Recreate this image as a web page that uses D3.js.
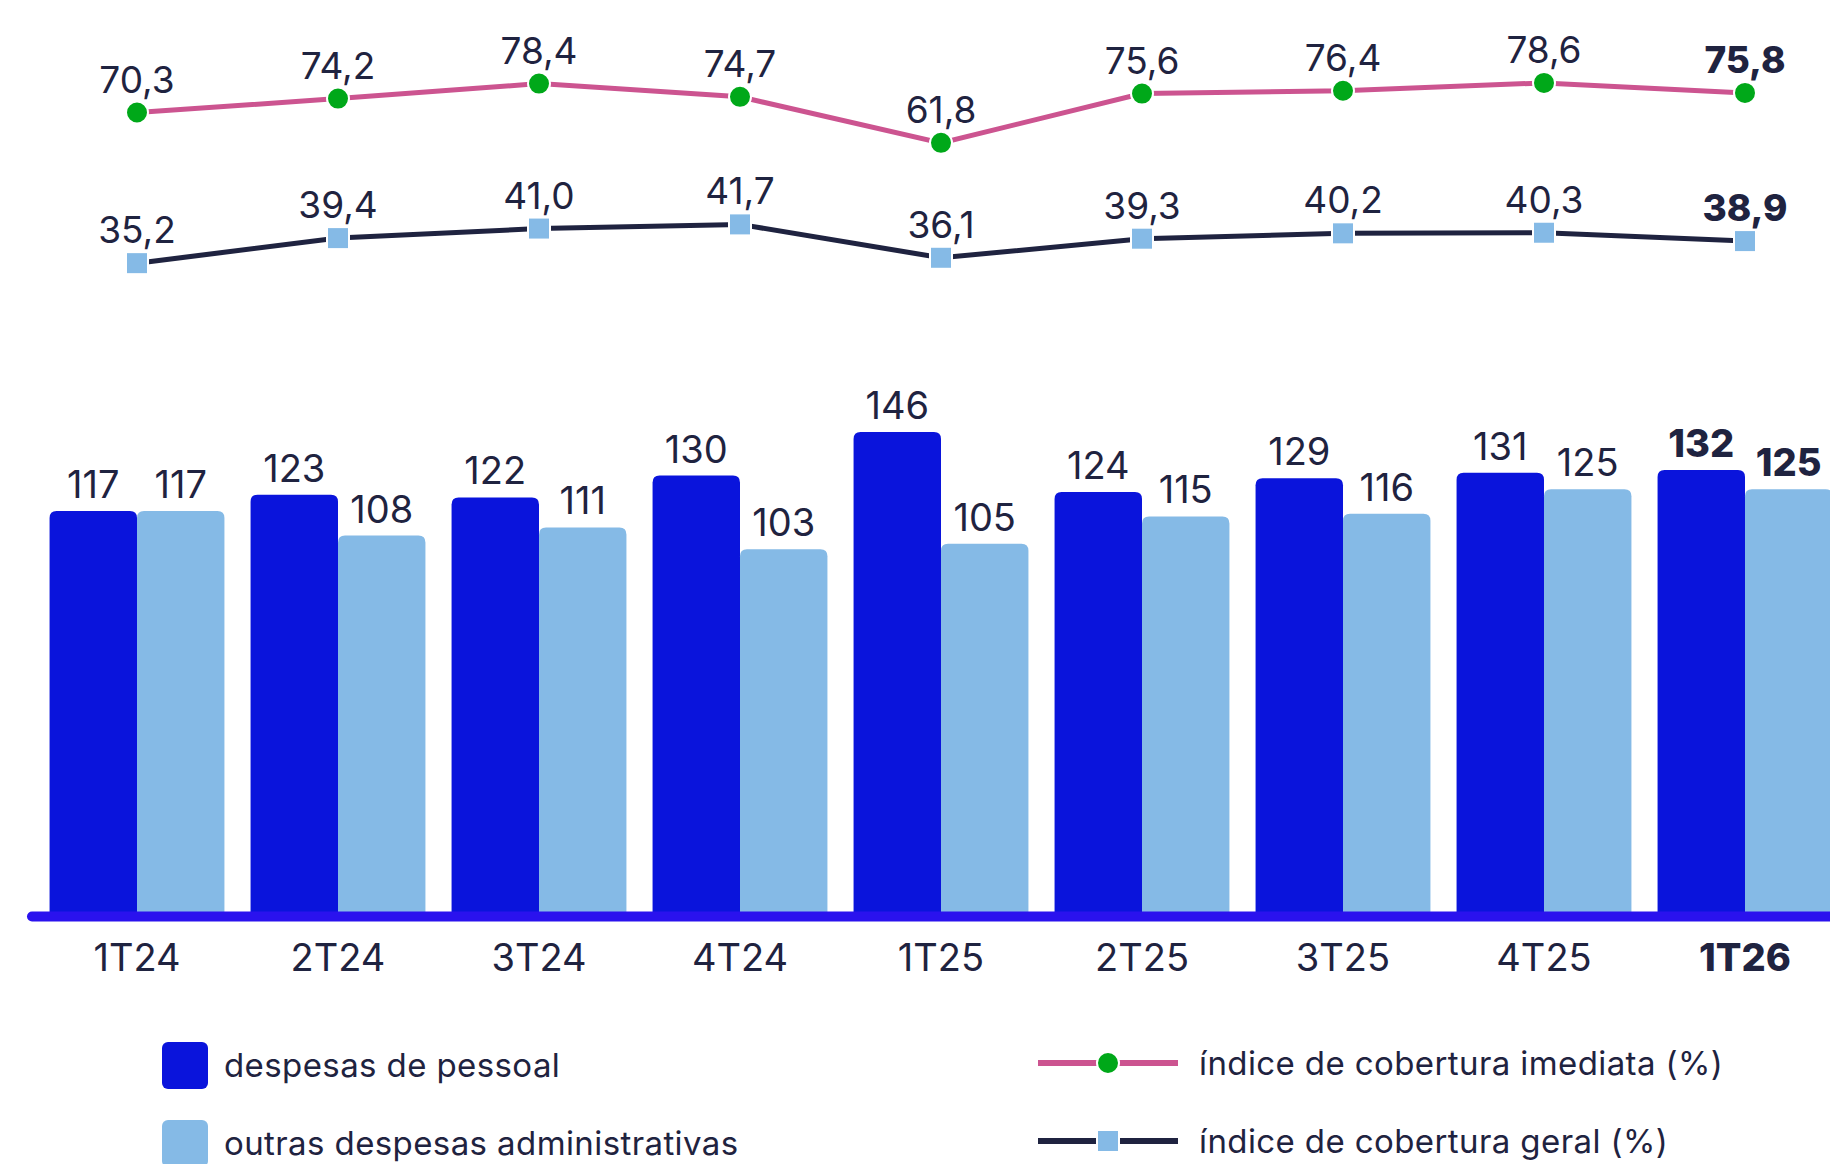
<!DOCTYPE html>
<html>
<head>
<meta charset="utf-8">
<script src="https://cdn.jsdelivr.net/npm/d3@7"></script>
<style>
  body { margin: 0; background: #fff; }
  text { font-family: Inter, "Open Sans", sans-serif; fill: #1f2340; }
</style>
</head>
<body>
<div id="chart"></div>
<script>
// quarters and series
let quarters = ["1T24", "2T24", "3T24", "4T24", "1T25", "2T25", "3T25", "4T25", "1T26"];
let despesasPessoal = [117, 123, 122, 130, 146, 124, 129, 131, 132];
let outrasDespesas = [117, 108, 111, 103, 105, 115, 116, 125, 125];
let coberturaImediata = [70.3, 74.2, 78.4, 74.7, 61.8, 75.6, 76.4, 78.6, 75.8];
let coberturaGeral = [35.2, 39.4, 41.0, 41.7, 36.1, 39.3, 40.2, 40.3, 38.9];
let seriesKeys = ["pessoal", "outras"];

let width = 1830;
let height = 1164;
let lastQ = quarters[quarters.length - 1];

let colors = {
  pessoal: "#0a14dc",
  outras: "#85bae6",
  axis: "#2a12ee",
  imediata: "#cc5490",
  geral: "#1f2340",
  dot: "#00a819",
  text: "#1f2340",
};

let ptBr = d3.formatLocale({ decimal: ",", thousands: ".", grouping: [3], currency: ["R$", ""] });
let fmt1 = ptBr.format(".1f");

let svg = d3
  .select("#chart")
  .append("svg")
  .attr("width", width)
  .attr("height", height);

// x scales
let x0 = d3
  .scaleBand()
  .domain(quarters)
  .range([36.5, 1845.5])
  .paddingInner(0.13)
  .paddingOuter(0.065);
let x1 = d3.scaleBand().domain(seriesKeys).range([0, x0.bandwidth()]);

// bar scale (baseline sits on the thick axis line)
let baseY = 912;
let yBar = d3.scaleLinear().domain([-30, 150]).range([baseY, 421]);

// two separate scales for the index lines
let yImediata = d3.scaleLinear().domain([60, 80]).range([149.3, 77.9]);
let yGeral = d3.scaleLinear().domain([34, 42]).range([270.3, 222.6]);

let rows = quarters.map((q, i) => ({
  q: q,
  pessoal: despesasPessoal[i],
  outras: outrasDespesas[i],
  imediata: coberturaImediata[i],
  geral: coberturaGeral[i],
}));

function topRounded(x, y, w, h, r) {
  return `M${x},${y + h}V${y + r}Q${x},${y} ${x + r},${y}H${x + w - r}Q${x + w},${y} ${x + w},${y + r}V${y + h}Z`;
}

// bars
let groups = svg
  .append("g")
  .selectAll("g.quarter")
  .data(rows)
  .enter()
  .append("g")
  .attr("class", "quarter")
  .attr("transform", (d) => `translate(${x0(d.q)},0)`);

groups
  .selectAll("path.bar")
  .data((d) => seriesKeys.map((k) => ({ key: k, value: d[k], q: d.q })))
  .enter()
  .append("path")
  .attr("class", "bar")
  .attr("fill", (d) => colors[d.key])
  .attr("d", (d) =>
    topRounded(x1(d.key), yBar(d.value), x1.bandwidth(), baseY + 2 - yBar(d.value), 7)
  );

groups
  .selectAll("text.barLabel")
  .data((d) => seriesKeys.map((k) => ({ key: k, value: d[k], q: d.q })))
  .enter()
  .append("text")
  .attr("class", "barLabel")
  .attr("x", (d) => x1(d.key) + x1.bandwidth() / 2)
  .attr("y", (d) => yBar(d.value) - 13)
  .attr("text-anchor", "middle")
  .attr("font-size", 38)
  .attr("font-weight", (d) => (d.q === lastQ ? 800 : 400))
  .text((d) => d.value);

// thick axis line
svg
  .append("line")
  .attr("x1", 32)
  .attr("x2", width + 10)
  .attr("y1", 916.5)
  .attr("y2", 916.5)
  .attr("stroke", colors.axis)
  .attr("stroke-width", 10)
  .attr("stroke-linecap", "round");

// category labels
svg
  .append("g")
  .selectAll("text")
  .data(quarters)
  .enter()
  .append("text")
  .attr("x", (q) => x0(q) + x0.bandwidth() / 2)
  .attr("y", 971)
  .attr("text-anchor", "middle")
  .attr("font-size", 38)
  .attr("font-weight", (q) => (q === lastQ ? 800 : 400))
  .text((q) => q);

// index lines
let cx = (d) => x0(d.q) + x0.bandwidth() / 2;

function drawIndex(key, yScale, lineColor, markerType) {
  let g = svg.append("g").attr("class", "index-" + key);
  g.append("path")
    .datum(rows)
    .attr("fill", "none")
    .attr("stroke", lineColor)
    .attr("stroke-width", 5)
    .attr("d", d3.line().x(cx).y((d) => yScale(d[key])));

  if (markerType === "circle") {
    g.selectAll("circle")
      .data(rows)
      .enter()
      .append("circle")
      .attr("cx", cx)
      .attr("cy", (d) => yScale(d[key]))
      .attr("r", 11)
      .attr("fill", colors.dot)
      .attr("stroke", "#fff")
      .attr("stroke-width", 2);
  } else {
    g.selectAll("rect")
      .data(rows)
      .enter()
      .append("rect")
      .attr("x", (d) => cx(d) - 11)
      .attr("y", (d) => yScale(d[key]) - 11)
      .attr("width", 22)
      .attr("height", 22)
      .attr("fill", colors.outras)
      .attr("stroke", "#fff")
      .attr("stroke-width", 2);
  }

  g.selectAll("text")
    .data(rows)
    .enter()
    .append("text")
    .attr("x", cx)
    .attr("y", (d) => yScale(d[key]) - 20)
    .attr("text-anchor", "middle")
    .attr("font-size", 37)
    .attr("font-weight", (d) => (d.q === lastQ ? 800 : 400))
    .text((d) => fmt1(d[key]));
}

drawIndex("imediata", yImediata, colors.imediata, "circle");
drawIndex("geral", yGeral, colors.geral, "square");

// legend
let legendFont = 33;
let legendBars = [
  { label: "despesas de pessoal", color: colors.pessoal, y: 1042 },
  { label: "outras despesas administrativas", color: colors.outras, y: 1120 },
];
let lgB = svg.append("g").attr("class", "legendBars");
lgB
  .selectAll("rect")
  .data(legendBars)
  .enter()
  .append("rect")
  .attr("x", 162)
  .attr("y", (d) => d.y)
  .attr("width", 46)
  .attr("height", 47)
  .attr("rx", 6)
  .attr("fill", (d) => d.color);
lgB
  .selectAll("text")
  .data(legendBars)
  .enter()
  .append("text")
  .attr("x", 224)
  .attr("y", (d) => d.y + 35)
  .attr("font-size", legendFont)
  .attr("letter-spacing", 0.4)
  .text((d) => d.label);

let legendLines = [
  { label: "índice de cobertura imediata (%)", color: colors.imediata, marker: "circle", y: 1063 },
  { label: "índice de cobertura geral (%)", color: colors.geral, marker: "square", y: 1141 },
];
let lgL = svg.append("g").attr("class", "legendLines");
let items = lgL
  .selectAll("g")
  .data(legendLines)
  .enter()
  .append("g")
  .attr("transform", (d) => `translate(0,${d.y})`);
items
  .append("line")
  .attr("x1", 1038)
  .attr("x2", 1178)
  .attr("stroke", (d) => d.color)
  .attr("stroke-width", 6);
items
  .filter((d) => d.marker === "circle")
  .append("circle")
  .attr("cx", 1108)
  .attr("r", 11)
  .attr("fill", colors.dot)
  .attr("stroke", "#fff")
  .attr("stroke-width", 2);
items
  .filter((d) => d.marker === "square")
  .append("rect")
  .attr("x", 1097)
  .attr("y", -11)
  .attr("width", 22)
  .attr("height", 22)
  .attr("fill", colors.outras)
  .attr("stroke", "#fff")
  .attr("stroke-width", 2);
items
  .append("text")
  .attr("x", 1199)
  .attr("y", 12)
  .attr("font-size", legendFont)
  .attr("letter-spacing", 0.4)
  .text((d) => d.label);
</script>
</body>
</html>
